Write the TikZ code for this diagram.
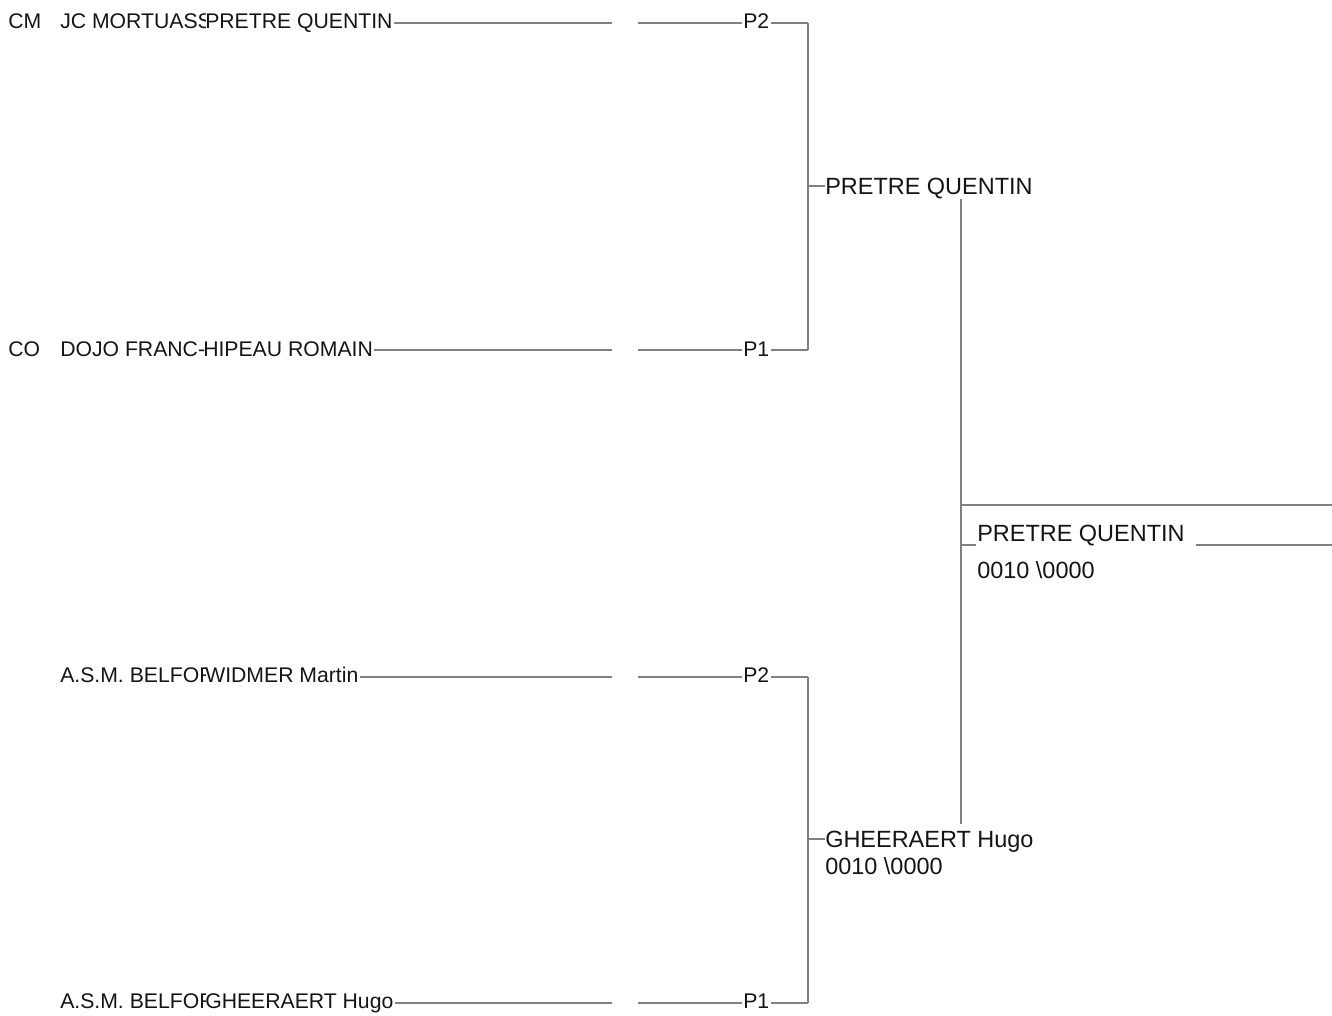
\documentclass[tikz,border=0pt]{standalone}
\usepackage{fontspec}
\setmainfont{Liberation Sans}
\begin{document}
\begin{tikzpicture}[x=0.75pt,y=-0.75pt,
  ln/.style={draw=black!50, line width=0.9pt},
  sm/.style={font=\fontsize{15.9}{18}\selectfont, text=black!92, inner sep=0pt, anchor=base west},
  lg/.style={font=\fontsize{17.6}{20}\selectfont, text=black!92, inner sep=0pt, anchor=base west}]
\useasboundingbox (0,0) rectangle (1332,1015);

% ---- row coordinates
\coordinate (a1) at (612,23);   \coordinate (b1) at (638,23);   \coordinate (j1) at (808,23);
\coordinate (a2) at (612,350);  \coordinate (b2) at (638,350);  \coordinate (j2) at (808,350);
\coordinate (a3) at (612,677);  \coordinate (b3) at (638,677);  \coordinate (j3) at (808,677);
\coordinate (a4) at (612,1003); \coordinate (b4) at (638,1003); \coordinate (j4) at (808,1003);

% ---- left column: country / club / name
\node[sm] (c1) at (8,28) {CM};
\node[sm] (c2) at (8,356) {CO};
\begin{scope}
  \clip (55,0) rectangle (205,1015);
  \node[sm] (k1) at (60,28) {JC MORTUASS};
  \node[sm] (k2) at (60,356) {DOJO FRANC-};
  \node[sm] (k3) at (60,682) {A.S.M. BELFORT};
  \node[sm] (k4) at (60,1008) {A.S.M. BELFORT};
\end{scope}
\node[sm] (n1) at (205,28) {PRETRE QUENTIN};
\node[sm] (n2) at (203,356) {HIPEAU ROMAIN};
\node[sm] (n3) at (205,682) {WIDMER Martin};
\node[sm] (n4) at (205,1008) {GHEERAERT Hugo};

% ---- pool labels
\node[sm] (p1) at (743,28) {P2};
\node[sm] (p2) at (743,356) {P1};
\node[sm] (p3) at (743,682) {P2};
\node[sm] (p4) at (743,1008) {P1};

% ---- row lines
\foreach \i in {1,2,3,4}{
  \draw[ln] ([xshift=1pt]n\i.east |- a\i) -- (a\i);
  \draw[ln] (b\i) -- ([xshift=-1pt]p\i.west |- b\i);
  \draw[ln] ([xshift=1pt]p\i.east |- j\i) -- (j\i);
}
\draw[ln] (j1) -- (j2);
\draw[ln] (j3) -- (j4);

% ---- semi-final winners
\coordinate (m1) at (808,186);
\coordinate (m2) at (808,839);
\node[lg] (w1) at (825,194) {PRETRE QUENTIN};
\node[lg] (w2) at (825,847) {GHEERAERT Hugo};
\node[lg] (s2) at (825,874) {0010 \textbackslash 0000};
\draw[ln] (m1) -- (w1.west |- m1);
\draw[ln] (m2) -- (w2.west |- m2);

% ---- final
\coordinate (f1) at (961,199);
\coordinate (f2) at (961,824);
\draw[ln] (f1) -- (f2);
\coordinate (t1) at (961,505);
\coordinate (t2) at (1332,505);
\draw[ln] (t1) -- (t2);
\coordinate (u1) at (961,545);
\coordinate (u2) at (1332,545);
\node[lg] (fw) at (977,541) {PRETRE QUENTIN};
\node[lg] (fs) at (977,578) {0010 \textbackslash 0000};
\draw[ln] (u1) -- ([xshift=-1pt]fw.west |- u1);
\draw[ln] ([xshift=8pt]fw.east |- u1) -- (u2);
\end{tikzpicture}
\end{document}
